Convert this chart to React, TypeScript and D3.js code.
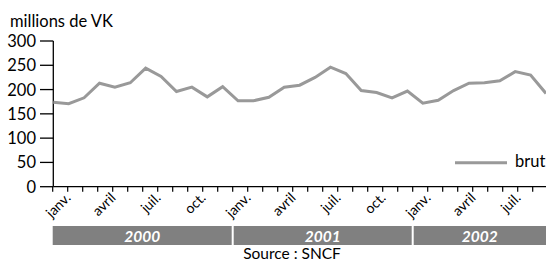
import React from "react";
import * as d3 from "d3";

// monthly values, janv. 2000 -> sept. 2002 (millions de VK)
const brut = [
  174, 171, 183, 213, 205, 214, 244, 227, 196, 205, 185, 206,
  177, 177, 184, 205, 209, 225, 246, 233, 198, 194, 183, 197,
  172, 178, 198, 213, 214, 218, 237, 230, 192,
];
const years = ["2000", "2001", "2002"];
const quarterLabels = ["janv.", "avril", "juil.", "oct."];
const yTicks = [0, 50, 100, 150, 200, 250, 300];

const W = 546;
const H = 262;
const FONT = "Lato, 'Open Sans', sans-serif";

export default function App() {
  const left = 53.3;
  const right = 546;
  const y0 = 186.7;

  const y = d3.scaleLinear().domain([0, 300]).range([y0, 41]);

  // the line runs over the full plot width
  const xData = d3
    .scalePoint<number>()
    .domain(d3.range(brut.length))
    .range([left, right]);

  // month ticks of the category axis (15px per month)
  const xAxis = d3.scaleLinear().domain([0, 36]).range([52.7, 592.7]);

  const line = d3
    .line<number>()
    .x((d, i) => xData(i) as number)
    .y((d) => y(d));

  const monthTicks = d3.range(0, 34);
  const labels = d3.range(0, 11).map((k) => ({
    text: quarterLabels[k % 4],
    x: xAxis(1 + 3 * k),
  }));

  return (
    <svg
      width={W}
      height={H}
      style={{ position: "absolute", left: 0, top: 0, background: "#fff" }}
      fontFamily={FONT}
    >
      <text x={10} y={27} fontSize={16.5} fill="#000">
        millions de VK
      </text>

      {/* y axis */}
      <line x1={left} x2={left} y1={y(300)} y2={y0} stroke="#000" strokeWidth={1.3} />
      {yTicks.map((t) => (
        <g key={t}>
          <line x1={40} x2={left} y1={y(t)} y2={y(t)} stroke="#000" strokeWidth={1.3} />
          <text
            x={36}
            y={y(t)}
            textAnchor="end"
            dominantBaseline="central"
            fontSize={16.5}
            fill="#000"
          >
            {t}
          </text>
        </g>
      ))}

      {/* x axis */}
      <line x1={left} x2={W} y1={y0} y2={y0} stroke="#000" strokeWidth={1.3} />
      {monthTicks.map((m) => (
        <line
          key={m}
          x1={xAxis(m)}
          x2={xAxis(m)}
          y1={y0}
          y2={y0 + 5}
          stroke="#000"
          strokeWidth={1.2}
        />
      ))}
      {labels.map((l, i) => (
        <text
          key={i}
          transform={`translate(${l.x},${y0 + 8}) rotate(-45)`}
          textAnchor="end"
          dominantBaseline="central"
          fontSize={14}
          fill="#000"
        >
          {l.text}
        </text>
      ))}

      {/* year bands */}
      {years.map((yr, i) => {
        const x1 = xAxis(12 * i) + (i === 0 ? 0 : 1);
        const x2 = Math.min(xAxis(12 * (i + 1)) - 1, W);
        return (
          <g key={yr}>
            <rect x={x1} y={226} width={x2 - x1} height={19} fill="#808080" />
            <text
              x={(x1 + x2) / 2}
              y={236}
              textAnchor="middle"
              dominantBaseline="central"
              fontSize={15.5}
              fontWeight="bold"
              fontStyle="italic"
              fill="#fff"
            >
              {yr}
            </text>
          </g>
        );
      })}

      <text x={292} y={259} textAnchor="middle" fontSize={15.5} fill="#000">
        Source : SNCF
      </text>

      {/* series */}
      <path
        d={line(brut) ?? ""}
        fill="none"
        stroke="#999"
        strokeWidth={3}
        strokeLinejoin="miter"
      />

      {/* legend */}
      <line x1={455} x2={507} y1={162.7} y2={162.7} stroke="#999" strokeWidth={3} />
      <text x={515} y={167} fontSize={16.5} fill="#000">
        brut
      </text>
    </svg>
  );
}
